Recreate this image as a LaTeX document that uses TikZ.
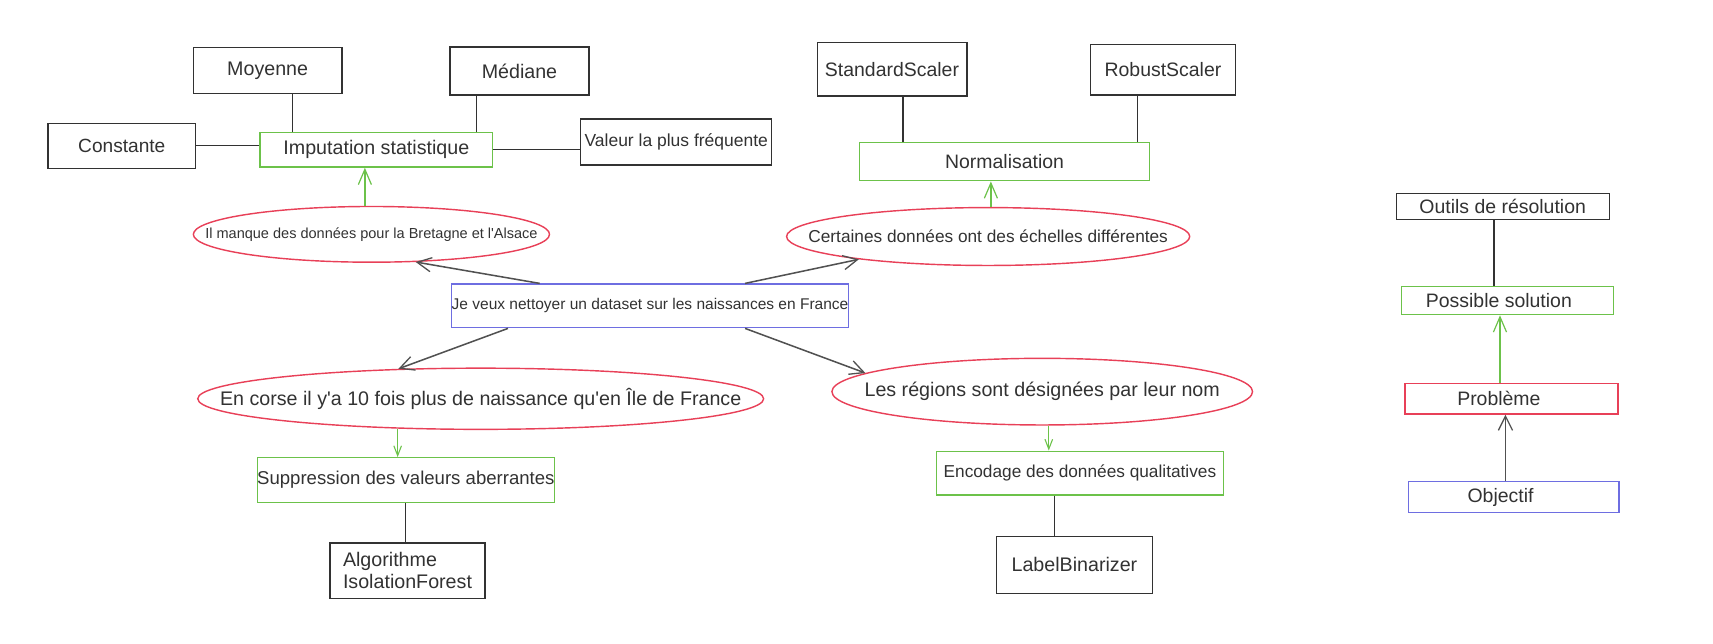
\documentclass[tikz,border=0pt]{standalone}
\usepackage{fontspec}
\setmainfont{Liberation Sans}
\usetikzlibrary{arrows.meta,shapes.geometric,calc}
\definecolor{ink}{RGB}{50,50,50}
\definecolor{grn}{RGB}{108,194,74}
\definecolor{rd}{RGB}{232,64,88}
\definecolor{blu}{RGB}{110,110,225}
\newcommand{\fs}[1]{\fontsize{#1}{#1}\selectfont}
\newcommand{\zw}[1]{\makebox[0pt]{#1}}
\tikzset{
  box/.style={draw=ink, line width=1.2pt, rectangle, inner sep=0pt, text=ink},
  gbox/.style={box, draw=grn},
  rbox/.style={box, draw=rd},
  bbox/.style={box, draw=blu},
  ell/.style={draw=rd, line width=1.3pt, ellipse, inner sep=0pt, text=ink},
  link/.style={draw=ink, line width=1.1pt},
  darr/.style={draw=ink!85, line width=1.4pt, -{Straight Barb[length=13pt,width=13pt,line width=1.2pt]}},
  garr/.style={draw=grn, line width=1.2pt, -{Straight Barb[length=14pt,width=12pt,line width=1.1pt]}},
  sgarr/.style={draw=grn, line width=1.1pt, -{Straight Barb[length=9pt,width=7pt,line width=1pt]}},
}
\begin{document}
\begin{tikzpicture}[x=1pt,y=-1pt]
\useasboundingbox (0,0) rectangle (1568,588.6);
% left group
\node[box, minimum width=136pt, minimum height=42pt, font=\fs{18}] (moy) at (245,64.5) {Moyenne};
\node[box, minimum width=127pt, minimum height=44pt, font=\fs{18}] (med) at (475.5,65) {Médiane};
\node[box, minimum width=135pt, minimum height=41pt, font=\fs{17.5}] (cst) at (111.5,133.5) {Constante};
\node[gbox, minimum width=213pt, minimum height=32pt, font=\fs{18}] (imp) at (344.5,137) {Imputation statistique};
\node[box, minimum width=175pt, minimum height=42pt, font=\fs{16}] (val) at (619,130) {Valeur la plus fréquente};
\node[ell, minimum width=326pt, minimum height=51pt, font=\fs{13.3}] (e1) at (340,214.5) {\zw{Il manque des données pour la Bretagne et l\textquotesingle Alsace}};
% center
\node[bbox, minimum width=354pt, minimum height=40pt, font=\fs{14.2}] (goal) at (595,280) {Je veux nettoyer un dataset sur les naissances en France};
% right top group
\node[ell, minimum width=369pt, minimum height=53pt, font=\fs{15.8}] (e2) at (904.5,216.5) {\zw{Certaines données ont des échelles différentes}};
\node[gbox, minimum width=265pt, minimum height=35pt, font=\fs{17.8}] (norm) at (919.5,148) {Normalisation};
\node[box, minimum width=137pt, minimum height=49pt, font=\fs{17.8}] (ss) at (816.5,63.5) {StandardScaler};
\node[box, minimum width=133pt, minimum height=46pt, font=\fs{17.8}] (rs) at (1064.5,64) {RobustScaler};
% bottom left group
\node[ell, minimum width=518pt, minimum height=56pt, font=\fs{18}] (e3) at (440,365) {\zw{En corse il y\textquotesingle a 10 fois plus de naissance qu\textquotesingle en Île de France}};
\node[gbox, minimum width=272pt, minimum height=41pt, font=\fs{17}] (sup) at (371.5,439.5) {Suppression des valeurs aberrantes};
\node[box, minimum width=142pt, minimum height=51pt, font=\fontsize{18}{20}\selectfont, align=left] (algo) at (373,522.5) {Algorithme\\IsolationForest};
% bottom right group
\node[ell, minimum width=385pt, minimum height=61pt, font=\fs{18}] (e4) at (954,358.5) {\zw{Les régions sont désignées par leur nom}};
\node[gbox, minimum width=263pt, minimum height=40pt, font=\fs{15.8}] (enc) at (988.5,433) {Encodage des données qualitatives};
\node[box, minimum width=143pt, minimum height=52pt, font=\fs{18}] (lb) at (983.5,517) {LabelBinarizer};
% legend
\node[box, minimum width=195pt, minimum height=24pt, font=\fs{17.8}] (outils) at (1375.5,189) {Outils de résolution};
\node[gbox, minimum width=194pt, minimum height=26pt, font=\fs{17.8}] (poss) at (1380,275) {Possible solution\hspace*{16pt}};
\node[rbox, minimum width=195pt, minimum height=28pt, font=\fs{17.8}] (prob) at (1383.5,365) {Problème\hspace*{23pt}};
\node[bbox, minimum width=193pt, minimum height=28pt, font=\fs{17.8}] (obj) at (1385.5,455) {Objectif\hspace*{24pt}};

% connectors left group
\coordinate (m1) at ([xshift=22.5pt]moy.south);
\draw[link] (m1) -- (m1 |- imp.north);
\coordinate (m2) at ([xshift=-39pt]med.south);
\draw[link] (m2) -- (m2 |- imp.north);
\draw[link] (cst.east) -- (cst.east -| imp.west);
\draw[link] (imp.east) -- (imp.east -| val.west);
\coordinate (g1) at ([xshift=-6pt]e1.north);
\draw[garr] (g1) -- (g1 |- imp.south);
% from goal
\draw[darr] ([xshift=-101pt]goal.north) -- (e1.-32);
\draw[darr] ([xshift=87pt]goal.north) -- (e2.-170);
\draw[darr] ([xshift=-130pt]goal.south) -- (e3.160.7);
\draw[darr] ([xshift=87pt]goal.south) -- (e4.174.3);
% right top group
\coordinate (g2) at ([xshift=2.5pt]e2.north);
\draw[garr] (g2) -- (g2 |- norm.south);
\coordinate (s1) at ([xshift=10pt]ss.south);
\draw[link] (s1) -- (s1 |- norm.north);
\coordinate (s2) at ([xshift=-23pt]rs.south);
\draw[link] (s2) -- (s2 |- norm.north);
% bottom left
\coordinate (g3) at ([xshift=-76pt,yshift=1.2pt]e3.south);
\draw[sgarr] (g3) -- (g3 |- sup.north);
\draw[link] (sup.south) -- (sup.south |- algo.north);
% bottom right
\coordinate (g4) at ([xshift=6pt]e4.south);
\draw[sgarr] (g4) -- (g4 |- enc.north);
\coordinate (c4) at ([xshift=-23.5pt]enc.south);
\draw[link] (c4) -- (c4 |- lb.north);
% legend
\coordinate (l1) at ([xshift=-8pt]outils.south);
\draw[link] (l1) -- (l1 |- poss.north);
\coordinate (l2) at ([xshift=-10.5pt]prob.north);
\draw[garr] (l2) -- (l2 |- poss.south);
\coordinate (l3) at ([xshift=-7.5pt]obj.north);
\draw[darr] (l3) -- (l3 |- prob.south);
\end{tikzpicture}
\end{document}
